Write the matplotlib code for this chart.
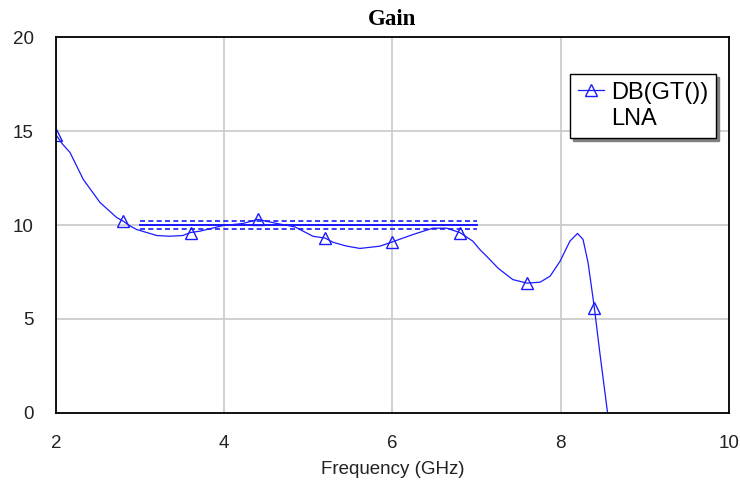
import matplotlib
matplotlib.use("Agg")
import matplotlib.pyplot as plt
from matplotlib.lines import Line2D

# gain trace (GHz, dB)
freq = [2.00, 2.08, 2.166, 2.324, 2.523, 2.721, 2.80, 2.88, 2.959, 3.197,
        3.35, 3.509, 3.60, 3.711, 3.985, 4.222, 4.40, 4.626, 4.84, 5.054,
        5.20, 5.292, 5.45, 5.613, 5.850, 6.00, 6.242, 6.480, 6.643, 6.80,
        6.955, 7.039, 7.118, 7.26, 7.431, 7.60, 7.755, 7.874, 7.993, 8.11,
        8.20, 8.266, 8.326, 8.40, 8.465, 8.557]
gain = [14.8, 14.3, 13.87, 12.43, 11.2, 10.4, 10.2, 9.95, 9.76, 9.44,
        9.4, 9.44, 9.6, 9.67, 9.97, 10.08, 10.3, 10.08, 9.9, 9.4,
        9.3, 9.08, 8.88, 8.75, 8.87, 9.1, 9.49, 9.83, 9.83, 9.6,
        9.14, 8.69, 8.34, 7.68, 7.09, 6.9, 6.95, 7.27, 8.07, 9.14,
        9.55, 9.23, 7.98, 5.6, 3.2, 0.0]

# triangle markers
mark_freq = [2.0, 2.8, 3.6, 4.4, 5.2, 6.0, 6.8, 7.6, 8.4]
mark_gain = [14.8, 10.2, 9.6, 10.3, 9.3, 9.1, 9.6, 6.9, 5.6]

# goal lines
goal_f = [3.0, 7.0]
goal_mid = 10.0
goal_hi = 10.2
goal_lo = 9.8

xticks = [2, 4, 6, 8, 10]
yticks = [0, 5, 10, 15, 20]

blue = "#1a1aff"
sans = "Liberation Sans"

fig = plt.figure(figsize=(7.4, 4.8), dpi=100)
ax = fig.add_axes([0.0757, 0.1406, 0.9093, 0.7813])

ax.plot(freq, gain, '-', color=blue, linewidth=0.9)
ax.plot(mark_freq, mark_gain, linestyle='none', marker='^', markersize=8,
        markerfacecolor='none', markeredgecolor=blue, markeredgewidth=1.0)

ax.plot(goal_f, [goal_mid, goal_mid], '-', color=blue, linewidth=1.4)
ax.plot(goal_f, [goal_hi, goal_hi], color=blue, linewidth=1.2, linestyle=(0, (3, 2)))
ax.plot(goal_f, [goal_lo, goal_lo], color=blue, linewidth=1.2, linestyle=(0, (3, 2)))

ax.set_xlim(2, 10)
ax.set_ylim(0, 20)
ax.set_xticks(xticks)
ax.set_yticks(yticks)
ax.grid(True, color="#c8c8c8", linewidth=1.2)
ax.set_axisbelow(True)
ax.tick_params(length=0, pad=16, labelsize=13.5, labelcolor="#222222")
for lab in ax.get_xticklabels() + ax.get_yticklabels():
    lab.set_family(sans)
for sp in ax.spines.values():
    sp.set_color("black")
    sp.set_linewidth(1.3)

ax.set_xlabel("Frequency (GHz)", fontsize=13.5, family=sans, color="#222222", labelpad=7)
ax.set_title("Gain", fontsize=16.5, family="Liberation Serif", fontweight="bold", pad=9)

h1 = Line2D([], [], color=blue, linewidth=0.9, marker='^', markersize=8,
            markerfacecolor='none', markeredgecolor=blue)
h2 = Line2D([], [], linestyle='none')
leg = ax.legend([h1, h2], ["DB(GT())", "LNA"], loc="upper right",
                bbox_to_anchor=(0.9807, 0.9027), borderaxespad=0,
                prop={'family': sans, 'size': 17}, numpoints=1,
                fancybox=False, framealpha=1, edgecolor="black",
                shadow={'color': '#808080', 'alpha': 1},
                handlelength=1.1, handletextpad=0.3, labelspacing=0.2,
                borderpad=0.32)
leg.get_frame().set_linewidth(1.0)

fig.savefig("out.png", dpi=100)
